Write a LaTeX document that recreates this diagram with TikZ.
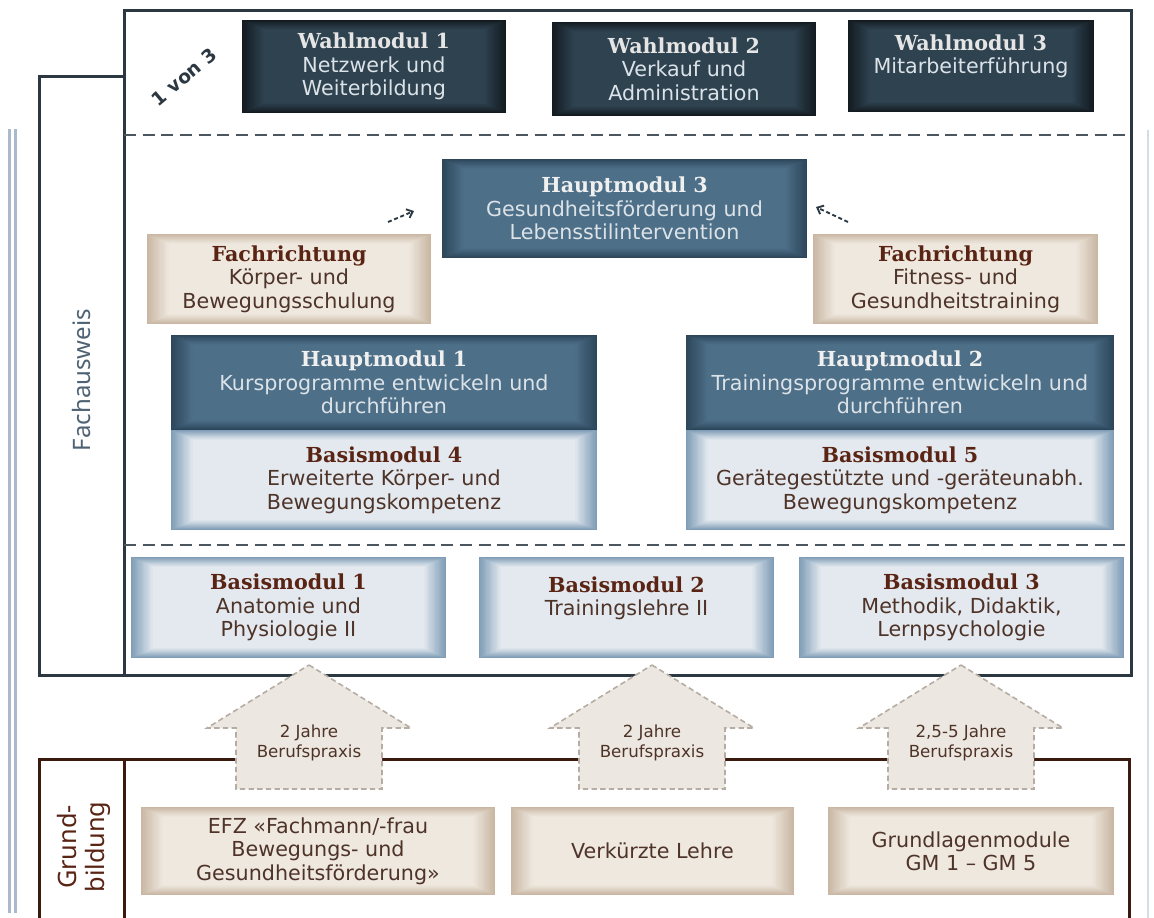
\documentclass[tikz,border=0pt]{standalone}
\usepackage{fontspec}
\setmainfont{DejaVu Sans}
\newfontfamily\headfont{DejaVu Serif}
\newfontfamily\sidefont{Noto Sans}
\usetikzlibrary{arrows.meta,calc}

\definecolor{frameblue}{HTML}{2B3842}
\definecolor{framebrown}{HTML}{3B1A0F}
\definecolor{sideline}{HTML}{A9BBCB}
\definecolor{sidegray}{HTML}{4F6273}
\definecolor{wahlout}{HTML}{131B21}
\definecolor{wahlin}{HTML}{2E4250}
\definecolor{hauptout}{HTML}{2C475B}
\definecolor{hauptin}{HTML}{4D6F88}
\definecolor{basisout}{HTML}{7F9DB6}
\definecolor{basisin}{HTML}{E3E9EF}
\definecolor{beigeout}{HTML}{C9B7A3}
\definecolor{beigein}{HTML}{EFE8DF}
\definecolor{arrowfill}{HTML}{ECE7E0}
\definecolor{arrowline}{HTML}{B5ADA4}
\definecolor{browntext}{HTML}{5A2414}
\definecolor{bodybrown}{HTML}{4E3328}
\definecolor{lighttext}{HTML}{DCE3E8}

\colorlet{hdcol}{black}
\newcommand{\hd}[1]{{\headfont\bfseries\color{hdcol}#1}}

\tikzset{
  glow/.style 2 args={fill=#1, path picture={
      \foreach \i [evaluate=\i as \p using int(100*\i/18)] in {1,...,18}
        \fill[#2!\p!#1] ([xshift=\i*0.9pt,yshift=\i*0.4pt]path picture bounding box.south west)
          rectangle ([xshift=-\i*0.9pt,yshift=-\i*0.4pt]path picture bounding box.north east);
    }},
  boxsize/.style 2 args={minimum width=#1*0.75pt, minimum height=#2*0.75pt},
  modul/.style={inner sep=0pt, align=center, font=\fontsize{15.5}{17.5}\selectfont},
  wahl/.style={modul, glow={wahlout}{wahlin}, text=lighttext,
    execute at begin node={\colorlet{hdcol}{white!90!black}}},
  haupt/.style={modul, glow={hauptout}{hauptin}, text=lighttext,
    execute at begin node={\colorlet{hdcol}{white!94!black}}},
  basis/.style={modul, glow={basisout}{basisin}, text=bodybrown,
    execute at begin node={\colorlet{hdcol}{browntext}}},
  beige/.style={modul, glow={beigeout}{beigein}, text=bodybrown,
    execute at begin node={\colorlet{hdcol}{browntext}}},
  frame/.style={draw=frameblue, line width=2.25pt},
  brownframe/.style={draw=framebrown, line width=2.25pt},
  sep/.style={draw=frameblue!85, line width=1.5pt, dash pattern=on 9pt off 5pt},
  praxis/.style={fill=arrowfill, draw=arrowline, line width=1.2pt, dash pattern=on 4pt off 2.5pt},
  praxistext/.style={align=center, text=bodybrown, font=\fontsize{12.5}{15.5}\selectfont},
  hint/.style={draw=frameblue, line width=1.4pt, dash pattern=on 3pt off 2pt,
    -{Straight Barb[length=4pt,width=7pt]}},
  sidelabel/.style={rotate=90, align=center}
}

\begin{document}
\begin{tikzpicture}[x=0.75pt,y=-0.75pt]
\useasboundingbox (0,0) rectangle (1154,918);

% side lines
\draw[sideline, line width=2.2pt] (9.5,129) -- (9.5,913);
\draw[sideline, line width=2.2pt] (15.5,129) -- (15.5,913);
\draw[sideline!50, line width=1.2pt] (1148,130) -- (1148,918);

% Fachausweis frame
\draw[frame] (124,10) rectangle (1131,675);
\draw[frame] (124,76) -- (39,76) -- (39,675) -- (124,675);
\draw[sep] (124,135) -- (1131,135);
\draw[sep] (124,545) -- (1131,545);

\node[sidelabel, text=sidegray, font=\sidefont\fontsize{18}{21}\selectfont] (fa) at (81,380) {Fachausweis};
\node[rotate=40, text=frameblue, font=\bfseries\fontsize{14}{16}\selectfont] (wahlzahl) at (184,77) {1 von 3};

% Wahlmodule
\node[wahl, boxsize={264}{93}] (wm1) at (374,66.5) {\hd{Wahlmodul 1}\\Netzwerk und\\Weiterbildung};
\node[wahl, boxsize={264}{94}] (wm2) at (684,69) {\hd{Wahlmodul 2}\\Verkauf und\\Administration};
\node[wahl, boxsize={246}{92}] (wm3) at (971,66) {\hd{Wahlmodul 3}\\Mitarbeiterführung\\\mbox{}};

% Hauptmodule und Fachrichtungen
\node[haupt, boxsize={365}{99}] (hm3) at (624.5,208.5) {\hd{Hauptmodul 3}\\Gesundheitsförderung und\\Lebensstilintervention};
\node[beige, boxsize={284}{90}] (frl) at (289,279) {\hd{Fachrichtung}\\Körper- und\\Bewegungsschulung};
\node[beige, boxsize={285}{90}] (frr) at (955.5,279) {\hd{Fachrichtung}\\Fitness- und\\Gesundheitstraining};

\coordinate (frl-a) at (388,222);
\coordinate (frl-b) at (414,211);
\coordinate (frr-a) at (848,222);
\coordinate (frr-b) at (816,207);
\draw[hint] (frl-a) -- (frl-b);
\draw[hint] (frr-a) -- (frr-b);

\node[haupt, boxsize={426}{95}] (hm1) at (384,382.5) {\hd{Hauptmodul 1}\\Kursprogramme entwickeln und\\durchführen};
\node[basis, boxsize={426}{100}] (bm4) at (384,480) {\hd{Basismodul 4}\\Erweiterte Körper- und\\Bewegungskompetenz};
\node[haupt, boxsize={428}{95}] (hm2) at (900,382.5) {\hd{Hauptmodul 2}\\Trainingsprogramme entwickeln und\\durchführen};
\node[basis, boxsize={428}{100}] (bm5) at (900,480) {\hd{Basismodul 5}\\Gerätegestützte und -geräteunabh.\\Bewegungskompetenz};

% Basismodule
\node[basis, boxsize={315}{101}] (bm1) at (288.5,607.5) {\hd{Basismodul 1}\\Anatomie und\\Physiologie II};
\node[basis, boxsize={295}{101}] (bm2) at (626.5,607.5) {\hd{Basismodul 2}\\Trainingslehre II\\\mbox{}};
\node[basis, boxsize={325}{101}] (bm3) at (961.5,607.5) {\hd{Basismodul 3}\\Methodik, Didaktik,\\Lernpsychologie};

% Grundbildung frame
\draw[brownframe] (39,918) -- (39,759) -- (1129,759) -- (1129,918);
\draw[brownframe] (124,759) -- (124,918);
\node[sidelabel, text=browntext, font=\sidefont\fontsize{19}{21}\selectfont] (gb) at (84,847) {Grund-\\bildung};

% Berufspraxis
\foreach \cx/\yrs [count=\n] in {309/2 Jahre, 652/2 Jahre, 961/{2,5-5 Jahre}} {
  \draw[praxis] (\cx,665) -- (\cx+102,728) -- (\cx+73,728) -- (\cx+73,789)
    -- (\cx-73,789) -- (\cx-73,728) -- (\cx-102,728) -- cycle;
  \node[praxistext] (bp\n) at (\cx,743) {\yrs\\Berufspraxis};
}

\node[beige, boxsize={354}{88}] (efz) at (318,851) {EFZ «Fachmann/-frau\\Bewegungs- und\\Gesundheitsförderung»};
\node[beige, boxsize={283}{88}] (vkl) at (652.5,851) {Verkürzte Lehre};
\node[beige, boxsize={286}{88}] (glm) at (971,851) {Grundlagenmodule\\GM 1 – GM 5};

\end{tikzpicture}
\end{document}
